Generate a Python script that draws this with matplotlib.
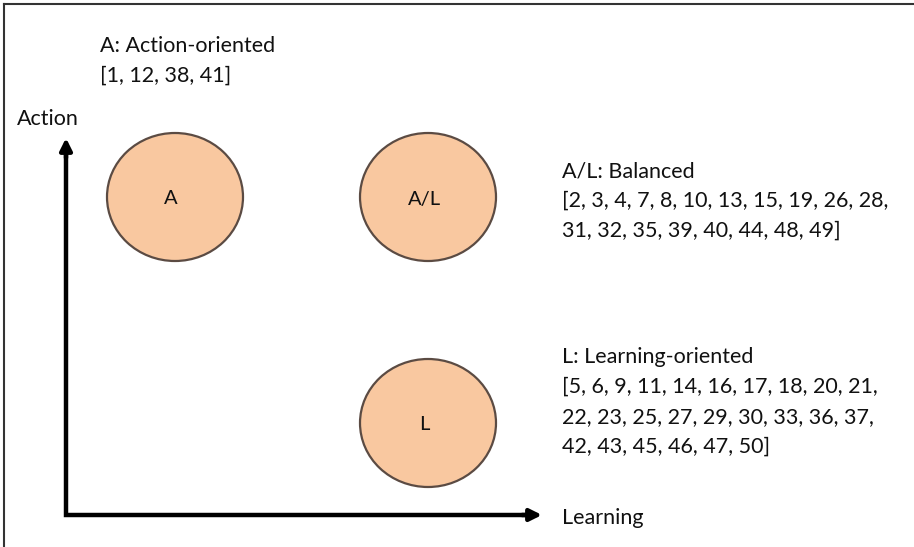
import matplotlib
matplotlib.use("Agg")
import matplotlib.pyplot as plt
from matplotlib.patches import Ellipse

# ---- data ----
groups = ["A", "A/L", "L"]
group_titles = ["A: Action-oriented", "A/L: Balanced", "L: Learning-oriented"]
members_A = [1, 12, 38, 41]
members_AL = [2, 3, 4, 7, 8, 10, 13, 15, 19, 26, 28, 31, 32, 35, 39, 40, 44, 48, 49]
members_L = [5, 6, 9, 11, 14, 16, 17, 18, 20, 21, 22, 23, 25, 27, 29, 30, 33, 36, 37,
             42, 43, 45, 46, 47, 50]
learning_level = [0, 1, 1]   # 0 = low, 1 = high
action_level = [1, 1, 0]
x_axis_label = "Learning"
y_axis_label = "Action"

# ---- layout (pixels) ----
W, H = 914, 547
plt.rcParams['font.family'] = ['Lato', 'DejaVu Sans']
fig = plt.figure(figsize=(W / 100, H / 100), dpi=100)
ax = fig.add_axes([0, 0, 1, 1])
ax.set_xlim(0, W)
ax.set_ylim(H, 0)
ax.axis("off")

col_x = {0: 175, 1: 428}
row_y = {1: 197, 0: 423}
rx, ry = 136, 128
fill = "#F9C8A0"
edge = "#5b4b43"
fs = 15.5

for g, lx, ay in zip(groups, learning_level, action_level):
    cx, cy = col_x[lx], row_y[ay]
    ax.add_patch(Ellipse((cx, cy), rx, ry, facecolor=fill, edgecolor=edge, lw=1.6))
    ax.text(cx - 4, cy + 2, g, ha="center", va="center", fontsize=fs - 1, color="#111111")

def wrap(members, chunks):
    lines, i = [], 0
    for n in chunks:
        part = ", ".join(str(m) for m in members[i:i + n])
        i += n
        lines.append(part)
    lines[0] = "[" + lines[0]
    for k in range(len(lines) - 1):
        lines[k] += ","
    lines[-1] += "]"
    return lines

blocks = [
    (group_titles[0], wrap(members_A, [4]), 100, 46),
    (group_titles[1], wrap(members_AL, [11, 8]), 562, 171),
    (group_titles[2], wrap(members_L, [10, 9, 6]), 562, 357),
]
spacing = 30
for title, lines, x0, y0 in blocks:
    for k, s in enumerate([title] + lines):
        ax.text(x0, y0 + k * spacing, s, ha="left", va="center", fontsize=fs, color="#111111")

# axes arrows: one L-shaped line with mitered corner, then arrowheads
ox, oy = 66, 515
xend, ytop = 542, 138
ax.plot([ox, ox, xend - 12], [ytop + 12, oy, oy], color="black", lw=3.2,
        solid_joinstyle="miter", solid_capstyle="butt")
ax.annotate("", xy=(xend, oy), xytext=(xend - 20, oy),
            arrowprops=dict(arrowstyle="-|>,head_length=0.7,head_width=0.35", lw=3.2, color="black",
                            shrinkA=0, shrinkB=0))
ax.annotate("", xy=(ox, ytop), xytext=(ox, ytop + 20),
            arrowprops=dict(arrowstyle="-|>,head_length=0.7,head_width=0.35", lw=3.2, color="black",
                            shrinkA=0, shrinkB=0))
ax.text(562, 518, x_axis_label, ha="left", va="center", fontsize=fs, color="#111111")
ax.text(17, 119, y_axis_label, ha="left", va="center", fontsize=fs, color="#111111")

# frame lines (top and left)
ax.plot([4, W], [4, 4], color="#333333", lw=1.5)
ax.plot([4, 4], [4, H], color="#333333", lw=1.5)

fig.savefig("out.png", dpi=100)
